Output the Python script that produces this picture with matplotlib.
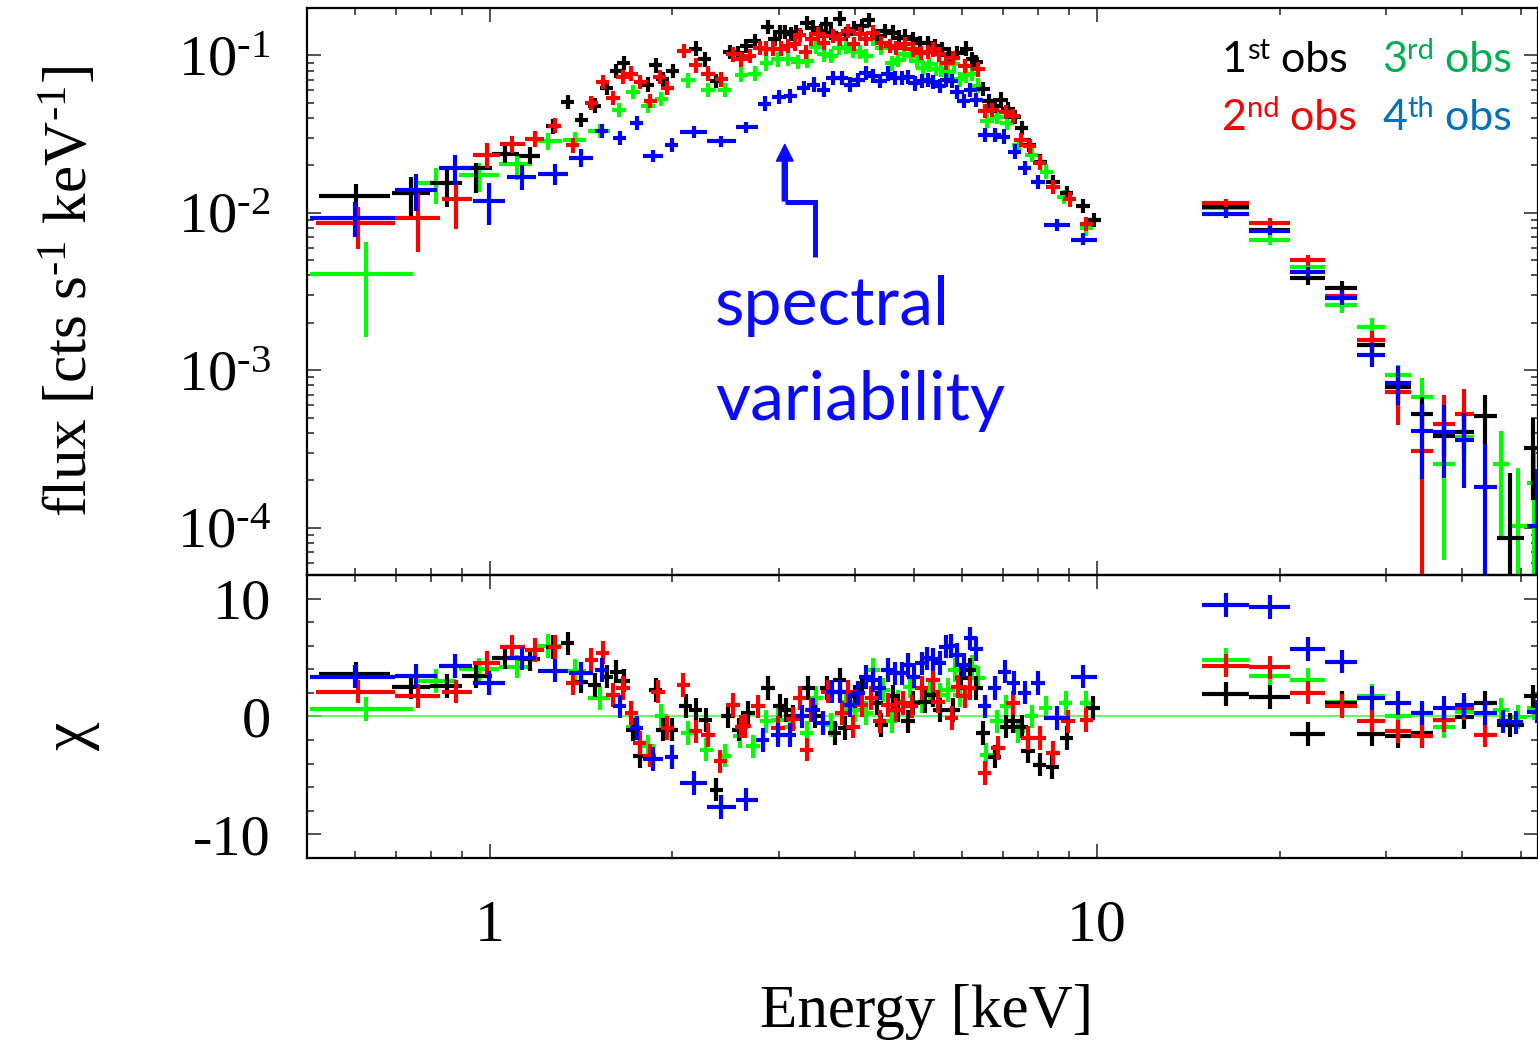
import numpy as np
import matplotlib
matplotlib.use("Agg")
import matplotlib.pyplot as plt
from matplotlib.ticker import LogLocator, MultipleLocator, NullFormatter, FuncFormatter

plt.rcParams["font.family"] = ["Liberation Serif", "DejaVu Serif"]
plt.rcParams["mathtext.fontset"] = "custom"
plt.rcParams["mathtext.rm"] = "Liberation Serif"
plt.rcParams["mathtext.it"] = "Liberation Serif:italic"
plt.rcParams["axes.unicode_minus"] = False

# ---- wide bins: (E, E_lo, E_hi, flux, flux_lo, flux_hi) ----
black_wide = [
    (0.603, 0.523, 0.684, 0.01278, 0.00967, 0.01524),
    (0.743, 0.689, 0.797, 0.01341, 0.00943, 0.01697),
    (0.849, 0.797, 0.899, 0.01553, 0.01092, 0.01986),
    (0.951, 0.899, 1.008, 0.01920, 0.01335, 0.02085),
    (1.061, 1.008, 1.118, 0.02369, 0.02076, 0.02638),
    (1.164, 1.118, 1.212, 0.02311, 0.02050, 0.02600),
    (16.3, 14.9, 17.8, 0.01082, 0.0101, 0.0116),
    (19.3, 17.8, 20.8, 0.00783, 0.0073, 0.0084),
    (22.3, 20.8, 23.8, 0.00387, 0.0035, 0.0043),
    (25.3, 23.8, 26.8, 0.00334, 0.0030, 0.0037),
    (28.4, 26.8, 29.8, 0.001446, 0.00125, 0.00167),
    (31.3, 29.8, 32.9, 0.000783, 0.00065, 0.00094),
    (34.3, 32.9, 35.8, 0.000529, 0.00040, 0.00068),
    (37.3, 35.8, 38.9, 0.000381, 0.00028, 0.00050),
    (40.3, 38.9, 41.8, 0.000406, 0.00030, 0.00053),
    (43.6, 41.8, 45.6, 0.000512, 0.000339, 0.000697),
    (47.9, 45.6, 50.5, 0.0000856, 0.000001, 0.000222),
    (52.3, 50.5, 54.6, 0.000321, 0.00015, 0.00050),
]
red_wide = [
    (0.607, 0.518, 0.697, 0.00856, 0.00593, 0.01092),
    (0.762, 0.697, 0.827, 0.00921, 0.00564, 0.01335),
    (0.881, 0.833, 0.936, 0.01217, 0.00787, 0.01547),
    (0.988, 0.937, 1.038, 0.02334, 0.01929, 0.02785),
    (1.090, 1.038, 1.142, 0.02733, 0.02404, 0.03087),
    (1.186, 1.142, 1.230, 0.02940, 0.02620, 0.03300),
    (16.3, 14.9, 17.8, 0.01158, 0.0109, 0.0123),
    (19.3, 17.8, 20.8, 0.00863, 0.0081, 0.0092),
    (22.3, 20.8, 23.8, 0.00499, 0.0046, 0.0054),
    (25.3, 23.8, 26.8, 0.00294, 0.0027, 0.0032),
    (28.4, 26.8, 29.8, 0.001556, 0.00135, 0.00178),
    (31.3, 29.8, 32.9, 0.000731, 0.000449, 0.00095),
    (34.3, 32.9, 35.8, 0.000306, 0.000001, 0.00060),
    (37.3, 35.8, 38.9, 0.000457, 0.00028, 0.000697),
    (40.3, 38.9, 41.8, 0.000529, 0.00035, 0.000757),
]
green_wide = [
    (0.625, 0.505, 0.748, 0.00410, 0.00163, 0.00653),
    (0.817, 0.752, 0.881, 0.01553, 0.01136, 0.01920),
    (0.960, 0.890, 1.035, 0.01740, 0.01361, 0.02066),
    (1.107, 1.035, 1.172, 0.02037, 0.01617, 0.02369),
    (1.247, 1.178, 1.313, 0.02838, 0.02500, 0.03220),
    (1.380, 1.320, 1.443, 0.02910, 0.02600, 0.03260),
    (1.518, 1.452, 1.577, 0.03320, 0.03000, 0.03680),
    (16.3, 14.9, 17.8, 0.0107, 0.0101, 0.0114),
    (19.3, 17.8, 20.8, 0.0067, 0.0062, 0.0072),
    (22.3, 20.8, 23.8, 0.00452, 0.0042, 0.0049),
    (25.3, 23.8, 26.8, 0.00258, 0.0023, 0.0029),
    (28.4, 26.8, 29.8, 0.00189, 0.00165, 0.00215),
    (31.3, 29.8, 32.9, 0.00093, 0.00078, 0.00108),
    (34.3, 32.9, 35.8, 0.000676, 0.00041, 0.00089),
    (37.3, 35.8, 38.9, 0.000252, 0.000062, 0.00060),
    (40.3, 38.9, 41.8, 0.000376, 0.00025, 0.00050),
    (46.4, 44.9, 47.7, 0.000252, 0.000088, 0.00041),
    (49.4, 47.7, 51.1, 0.000103, 0.000001, 0.000239),
    (52.4, 51.1, 54.0, 0.000192, 0.000001, 0.00032),
]
blue_wide = [
    (0.601, 0.505, 0.697, 0.00921, 0.00697, 0.01170),
    (0.755, 0.697, 0.819, 0.01396, 0.01030, 0.01766),
    (0.876, 0.824, 0.936, 0.01920, 0.01502, 0.02334),
    (0.997, 0.940, 1.060, 0.01193, 0.00835, 0.01553),
    (1.132, 1.069, 1.194, 0.01682, 0.01396, 0.02016),
    (1.280, 1.200, 1.344, 0.01758, 0.01500, 0.02050),
    (1.416, 1.350, 1.480, 0.02225, 0.01950, 0.02550),
    (1.858, 1.789, 1.929, 0.0230, 0.0210, 0.0252),
    (2.168, 2.061, 2.280, 0.0327, 0.0300, 0.0356),
    (2.408, 2.280, 2.540, 0.0284, 0.0262, 0.0308),
    (2.641, 2.547, 2.763, 0.0349, 0.0320, 0.0380),
    (8.602, 8.19, 9.03, 0.00835, 0.0077, 0.0091),
    (9.494, 9.06, 10.0, 0.00676, 0.0062, 0.0074),
    (16.3, 14.9, 17.8, 0.00981, 0.0092, 0.0105),
    (19.3, 17.8, 20.8, 0.00767, 0.0072, 0.0082),
    (22.3, 20.8, 23.8, 0.00420, 0.0039, 0.0045),
    (25.3, 23.8, 26.8, 0.00288, 0.0026, 0.0032),
    (28.4, 26.8, 29.8, 0.001254, 0.00105, 0.00148),
    (31.3, 29.8, 32.9, 0.000835, 0.000601, 0.001067),
    (34.3, 32.9, 35.8, 0.00041, 0.000205, 0.000613),
    (37.3, 35.8, 38.9, 0.000406, 0.000207, 0.00060),
    (40.3, 38.9, 41.8, 0.000358, 0.000178, 0.000535),
    (43.6, 41.8, 45.6, 0.00018, 0.000001, 0.00034),
    (53.0, 51.1, 55.0, 0.000102, 0.000001, 0.000235),
]

# ---- narrow bins: (E, flux) ----
black_pts = [
    (1.270, 0.0354), (1.344, 0.0504), (1.416, 0.0387), (1.489, 0.0480), (1.559, 0.0622),
    (1.617, 0.0794), (1.663, 0.0898), (1.821, 0.0653), (1.877, 0.0863), (1.928, 0.0703),
    (2.003, 0.0794), (2.185, 0.1104), (2.261, 0.0943), (2.363, 0.0686), (2.486, 0.1049),
    (2.562, 0.1040), (2.648, 0.1146), (2.733, 0.1234), (2.871, 0.1509), (2.948, 0.1265),
    (3.004, 0.1408), (3.062, 0.1408), (3.141, 0.1361), (3.201, 0.1408), (3.329, 0.1600),
    (3.405, 0.1502), (3.519, 0.1429), (3.586, 0.1577), (3.655, 0.1396), (3.772, 0.1714),
    (3.869, 0.1361), (3.978, 0.1481), (4.106, 0.1538), (4.211, 0.1680), (4.336, 0.1328),
    (4.475, 0.1429), (4.617, 0.1396), (4.724, 0.1297), (4.828, 0.1316), (4.983, 0.1265),
    (5.110, 0.1205), (5.273, 0.1205), (5.408, 0.1146), (5.568, 0.1092), (5.704, 0.1015),
    (5.886, 0.1040), (6.099, 0.1104), (6.240, 0.0943), (6.333, 0.0906), (6.494, 0.0613),
    (6.644, 0.0511), (6.792, 0.0480), (6.966, 0.0524), (7.143, 0.0457), (7.327, 0.0406),
    (7.516, 0.0346), (7.736, 0.0270), (8.076, 0.02115), (8.472, 0.01577), (8.915, 0.01341),
    (9.494, 0.01103), (9.899, 0.00898),
]
red_pts = [
    (1.280, 0.0358), (1.371, 0.0268), (1.471, 0.0499), (1.534, 0.0675), (1.597, 0.0537),
    (1.658, 0.0731), (1.712, 0.0767), (1.771, 0.0675), (1.839, 0.0511), (1.906, 0.0731),
    (1.962, 0.0622), (2.090, 0.1065), (2.185, 0.0863), (2.289, 0.0767), (2.408, 0.0703),
    (2.517, 0.1015), (2.598, 0.0943), (2.681, 0.0990), (2.785, 0.1120), (2.856, 0.1104),
    (2.929, 0.1104), (3.024, 0.1104), (3.101, 0.1146), (3.181, 0.1175), (3.242, 0.1341),
    (3.316, 0.1049), (3.388, 0.1265), (3.474, 0.1361), (3.549, 0.1205), (3.677, 0.1328),
    (3.772, 0.1265), (3.893, 0.1429), (3.978, 0.1175), (4.070, 0.1361), (4.174, 0.1265),
    (4.280, 0.1396), (4.419, 0.1205), (4.572, 0.1146), (4.677, 0.1120), (4.828, 0.1175),
    (4.983, 0.1092), (5.124, 0.1040), (5.273, 0.1049), (5.374, 0.1092), (5.497, 0.1015),
    (5.654, 0.0898), (5.798, 0.0967), (6.060, 0.0854), (6.373, 0.0814), (6.537, 0.0441),
    (6.730, 0.0448), (7.081, 0.0435), (7.280, 0.0414), (7.487, 0.0291), (7.755, 0.0264),
    (8.056, 0.02085), (8.472, 0.01465), (9.027, 0.01217), (9.616, 0.00847),
]
green_pts = [
    (1.633, 0.0448), (1.722, 0.0583), (1.823, 0.0475), (1.918, 0.0529), (2.122, 0.0693),
    (2.289, 0.0601), (2.439, 0.0601), (2.598, 0.0756), (2.733, 0.0767), (2.856, 0.0889),
    (2.985, 0.0943), (3.101, 0.0953), (3.221, 0.0906), (3.333, 0.0920), (3.444, 0.1130),
    (3.549, 0.1015), (3.655, 0.0990), (3.762, 0.1120), (3.859, 0.1136), (3.967, 0.1065),
    (4.070, 0.1049), (4.174, 0.0990), (4.280, 0.1265), (4.419, 0.1120), (4.590, 0.0889),
    (4.706, 0.0933), (4.810, 0.1015), (4.933, 0.0990), (5.058, 0.0920), (5.175, 0.0834),
    (5.293, 0.0876), (5.429, 0.0823), (5.548, 0.0814), (5.689, 0.0782), (5.813, 0.0876),
    (5.962, 0.0703), (6.099, 0.0746), (6.240, 0.0767), (6.373, 0.0643), (6.594, 0.0381),
    (6.851, 0.0406), (7.115, 0.0372), (7.448, 0.0270), (7.806, 0.02334), (8.262, 0.01827),
    (8.823, 0.01254), (9.616, 0.00795),
]
blue_pts = [
    (1.528, 0.0332), (1.637, 0.0298), (1.745, 0.0372), (1.993, 0.0270), (2.838, 0.0494),
    (2.996, 0.0545), (3.129, 0.0550), (3.291, 0.0622), (3.418, 0.0653), (3.549, 0.0607),
    (3.677, 0.0721), (3.797, 0.0721), (3.928, 0.0653), (4.044, 0.0696), (4.164, 0.0775),
    (4.280, 0.0738), (4.402, 0.0686), (4.531, 0.0767), (4.647, 0.0721), (4.768, 0.0721),
    (4.889, 0.0731), (5.015, 0.0663), (5.143, 0.0686), (5.273, 0.0696), (5.374, 0.0675),
    (5.512, 0.0637), (5.654, 0.0696), (5.763, 0.0686), (5.886, 0.0583), (6.037, 0.0511),
    (6.193, 0.0601), (6.333, 0.0519), (6.537, 0.0313), (6.792, 0.0313), (7.028, 0.0305),
    (7.327, 0.0245), (7.612, 0.0192), (8.004, 0.01577),
]

# ---- residuals, wide bins: (E, E_lo, E_hi, chi) ----
HIGH_BINS = [(16.3, 14.9, 17.8), (19.3, 17.8, 20.8), (22.3, 20.8, 23.8), (25.3, 23.8, 26.8),
             (28.4, 26.8, 29.8), (31.3, 29.8, 32.9), (34.3, 32.9, 35.8), (37.3, 35.8, 38.9),
             (40.3, 38.9, 41.8), (43.6, 41.8, 45.6)]
black_chi_wide = [
    (0.603, 0.523, 0.684, 3.58), (0.743, 0.689, 0.797, 2.48), (0.849, 0.797, 0.899, 2.60),
    (0.951, 0.899, 1.008, 3.44), (1.061, 1.008, 1.118, 5.00), (1.164, 1.118, 1.212, 4.85),
] + [b + (c,) for b, c in zip(HIGH_BINS, [1.92, 1.64, -1.49, 1.13, -1.46, -1.63, -1.40, -0.30, -0.05, 1.18])] + [
    (47.9, 45.6, 50.5, -0.70), (52.3, 50.5, 54.6, 1.70),
]
red_chi_wide = [
    (0.607, 0.518, 0.697, 2.11), (0.762, 0.697, 0.827, 1.75), (0.881, 0.833, 0.936, 2.11),
    (0.988, 0.937, 1.038, 4.56), (1.090, 1.038, 1.142, 5.87), (1.186, 1.142, 1.230, 5.64),
] + [b + (c,) for b, c in zip(HIGH_BINS, [4.31, 4.17, 2.03, 0.90, -0.34, -1.27, -1.69, -0.28, 0.71, -1.55])]
green_chi_wide = [
    (0.625, 0.505, 0.748, 0.62), (0.817, 0.752, 0.881, 3.02), (0.960, 0.890, 1.035, 4.00),
    (1.107, 1.035, 1.172, 4.23), (1.247, 1.178, 1.313, 5.98), (1.380, 1.320, 1.443, 3.89),
    (1.518, 1.452, 1.577, 1.55),
] + [b + (c,) for b, c in zip(HIGH_BINS[:9], [4.79, 3.44, 3.10, 1.20, 1.75, 0.06, 0.28, -0.85, 0.42])] + [
    (46.4, 44.9, 47.7, 0.57), (49.4, 47.7, 51.1, -0.05), (52.4, 51.1, 54.0, 0.70),
]
blue_chi_wide = [
    (0.601, 0.505, 0.697, 3.38), (0.755, 0.697, 0.819, 3.44), (0.876, 0.824, 0.936, 4.29),
    (0.997, 0.940, 1.060, 2.82), (1.132, 1.069, 1.194, 4.93), (1.280, 1.200, 1.344, 3.89),
    (1.416, 1.350, 1.480, 3.66), (1.858, 1.789, 1.929, -3.60), (2.168, 2.061, 2.280, -5.63),
    (2.408, 2.280, 2.540, -7.66), (2.641, 2.547, 2.763, -7.04), (8.602, 8.19, 9.03, -0.14),
    (9.494, 9.06, 10.0, 3.38),
] + [b + (c,) for b, c in zip(HIGH_BINS, [9.44, 9.30, 5.70, 4.65, 1.55, 1.13, 0.28, 0.71, 0.99, 0.28])] + [
    (46.7, 45.6, 47.9, -0.42), (49.0, 47.9, 50.3, -0.50), (53.0, 51.1, 55.0, 0.42),
]

# ---- residuals, narrow bins: (E, chi) ----
black_chi = [
    (1.270, 5.87), (1.344, 6.20), (1.416, 2.96), (1.489, 2.68), (1.559, 3.38), (1.617, 3.80),
    (1.663, 3.04), (1.722, -1.12), (1.767, -3.38), (1.877, 2.26), (1.928, -1.12), (1.993, -1.12),
    (2.103, 0.90), (2.185, 0.57), (2.269, -0.28), (2.363, -6.20), (2.470, 0.06), (2.575, -1.12),
    (2.664, 0.28), (2.874, 2.40), (3.004, 0.90), (3.074, 0.57), (3.160, 0.00), (3.345, 2.40),
    (3.431, 0.00), (3.595, 2.40), (3.701, -1.40), (3.772, 3.10), (3.845, -1.00), (3.993, 1.70),
    (4.097, 2.54), (4.336, 1.13), (4.419, -0.70), (4.617, 1.70), (4.706, 0.57), (4.889, -0.42),
    (4.983, 1.13), (5.207, 1.27), (5.374, 1.83), (5.512, 0.57), (5.798, 0.57), (5.985, 3.25),
    (6.177, 3.95), (6.333, 2.40), (6.494, -1.40), (6.792, -3.40), (7.099, -0.85), (7.280, -0.42),
    (7.516, -0.85), (7.706, -2.96), (8.056, -4.08), (8.452, -4.28), (8.915, -1.83), (9.860, 0.70),
]
red_chi = [
    (1.280, 5.87), (1.371, 2.82), (1.471, 4.79), (1.534, 5.41), (1.597, 1.83), (1.658, 2.40),
    (1.712, 0.28), (1.767, -2.25), (1.835, -3.32), (1.894, 2.11), (1.962, -0.98), (2.083, 2.68),
    (2.185, -1.27), (2.289, -1.55), (2.399, -3.80), (2.517, 0.99), (2.598, -0.85), (2.631, -0.80),
    (2.767, 0.85), (2.985, -1.00), (3.160, -0.20), (3.242, 1.55), (3.325, -2.80), (3.388, 0.57),
    (3.608, 2.11), (3.797, 0.28), (3.893, 2.11), (3.967, -0.85), (4.097, 0.99), (4.254, 1.55),
    (4.390, -0.42), (4.531, 0.99), (4.677, 0.57), (4.797, 1.13), (4.952, 0.85), (5.143, 2.40),
    (5.374, 3.10), (5.477, 1.27), (5.763, -0.14), (5.908, 2.54), (6.060, 1.70), (6.177, 2.40),
    (6.537, -4.80), (6.877, -2.67), (7.280, 1.13), (7.706, -1.83), (8.056, -1.83), (8.472, -3.10),
    (8.969, -0.42), (9.616, -0.28),
]
green_chi = [
    (1.722, -0.85), (1.823, -2.54), (1.918, 0.06), (2.122, -1.40), (2.275, -2.80), (2.439, -3.32),
    (2.582, -1.69), (2.715, -2.54), (2.856, -0.42), (2.985, -0.28), (3.121, -0.85), (3.325, -1.40),
    (3.453, 1.55), (3.655, -0.70), (3.869, 1.27), (3.993, 0.57), (4.174, 0.28), (4.280, 3.95),
    (4.446, 2.26), (4.590, -0.42), (4.706, 1.27), (4.920, 2.54), (5.143, 1.27), (5.307, 2.11),
    (5.512, 1.83), (5.689, 2.26), (5.835, 3.95), (5.946, 1.83), (6.217, 4.23), (6.373, 3.25),
    (6.579, -3.24), (6.851, -0.42), (7.099, 0.85), (7.420, -1.27), (7.806, 0.00), (8.241, 0.71),
    (8.891, 1.13), (9.616, 1.13),
]
blue_chi = [
    (1.528, 3.95), (1.637, 0.85), (1.745, -0.98), (1.993, -3.43), (2.814, -1.97), (2.985, -1.55),
    (3.121, -1.55), (3.263, 0.00), (3.409, 0.57), (3.540, -0.56), (3.669, 2.11), (3.772, 2.11),
    (3.918, 0.99), (4.044, 1.97), (4.164, 3.38), (4.280, 3.10), (4.390, 2.40), (4.531, 3.95),
    (4.647, 3.66), (4.768, 3.66), (4.889, 4.37), (4.996, 3.38), (5.143, 4.51), (5.261, 4.93),
    (5.374, 4.85), (5.512, 4.56), (5.639, 5.92), (5.741, 5.98), (5.886, 5.21), (6.037, 4.37),
    (6.193, 6.63), (6.333, 5.70), (6.537, 0.85), (6.792, 2.40), (7.053, 3.80), (7.300, 2.82),
    (7.612, 2.03), (8.004, 2.82),
]

# typical half-widths of the narrow bins
E_FRAC = 0.025
F_FRAC = 0.11
CHI_ERR = 1.0

SERIES = [
    # colour, wide, narrow, chi wide, chi narrow, z
    ("#00ff00", green_wide, green_pts, green_chi_wide, green_chi, 3),
    ("#000000", black_wide, black_pts, black_chi_wide, black_chi, 4),
    ("#ff0000", red_wide, red_pts, red_chi_wide, red_chi, 5),
    ("#0000ff", blue_wide, blue_pts, blue_chi_wide, blue_chi, 6),
]

fig = plt.figure(figsize=(15.38, 10.45), dpi=100)
ax1 = fig.add_axes([0.1996, 0.44976, 0.8004, 0.54258])
ax2 = fig.add_axes([0.1996, 0.17895, 0.8004, 0.27081], sharex=ax1)

LW = 3.0
for col, wide, pts, cwide, cpts, z in SERIES:
    w = np.array(wide).T
    ax1.errorbar(w[0], w[3], xerr=[w[0] - w[1], w[2] - w[0]], yerr=[w[3] - w[4], w[5] - w[3]],
                 fmt="none", ecolor=col, elinewidth=LW, capsize=0, zorder=z)
    p = np.array(pts).T
    ax1.errorbar(p[0], p[1], xerr=[p[0] * E_FRAC, p[0] * E_FRAC],
                 yerr=[p[1] - p[1] / (1 + F_FRAC), p[1] * F_FRAC],
                 fmt="none", ecolor=col, elinewidth=LW, capsize=0, zorder=z)
    cw = np.array(cwide).T
    ax2.errorbar(cw[0], cw[3], xerr=[cw[0] - cw[1], cw[2] - cw[0]], yerr=CHI_ERR,
                 fmt="none", ecolor=col, elinewidth=LW, capsize=0, zorder=z)
    cp = np.array(cpts).T
    ax2.errorbar(cp[0], cp[1], xerr=[cp[0] * E_FRAC, cp[0] * E_FRAC], yerr=CHI_ERR,
                 fmt="none", ecolor=col, elinewidth=LW, capsize=0, zorder=z)

ax2.axhline(0, color="#33ff33", lw=1.1, zorder=2)

# axes, ticks
ax1.set_xscale("log")
ax1.set_yscale("log")
ax1.set_xlim(0.5, 53.3)
ax1.set_ylim(5e-5, 0.2)
ax2.set_ylim(-12, 12)

for ax in (ax1, ax2):
    ax.xaxis.set_major_locator(LogLocator(base=10, numticks=10))
    ax.xaxis.set_minor_locator(LogLocator(base=10, subs=np.arange(2, 10), numticks=20))
    ax.tick_params(which="both", direction="in", top=True, right=True, width=1.1, color="#222222")
    ax.tick_params(which="major", length=10, pad=26)
    ax.tick_params(which="minor", length=5)
    for s in ax.spines.values():
        s.set_linewidth(1.6)
    ax.set_facecolor("none")


def decade_label(v, pos):
    return r"$10^{\text{-}%d}$" % round(-np.log10(v))


ax1.yaxis.set_major_locator(LogLocator(base=10, numticks=10))
ax1.yaxis.set_minor_locator(LogLocator(base=10, subs=np.arange(2, 10), numticks=20))
ax1.yaxis.set_major_formatter(FuncFormatter(decade_label))
ax1.yaxis.set_minor_formatter(NullFormatter())
ax1.tick_params(axis="y", labelsize=42)
ax1.tick_params(axis="x", labelbottom=False)

ax2.yaxis.set_major_locator(MultipleLocator(10))
ax2.yaxis.set_minor_locator(MultipleLocator(2))
ax2.set_yticks([-10, 0, 10])
ax2.set_yticklabels(["-10", "0", "10"])
ax2.tick_params(axis="y", labelsize=42)
ax2.set_xticks([1, 10])
ax2.set_xticklabels(["1", "10"])
ax2.xaxis.set_minor_formatter(NullFormatter())
ax2.tick_params(axis="x", labelsize=43, pad=30)
ax2.set_xlim(0.5, 53.3)

ax1.set_ylabel(r"flux [cts s$^{\text{-}1}$ keV$^{\text{-}1}$]", fontsize=44)
ax1.yaxis.set_label_coords(-0.168, 0.5)
ax2.set_ylabel("χ", fontsize=46)
ax2.yaxis.set_label_coords(-0.168, 0.43)
ax2.set_xlabel("Energy [keV]", fontsize=44)
ax2.xaxis.set_label_coords(0.503, -0.445)

# arrow pointing at the 4th observation
BLUE = "#0a0aff"
ax1.plot([3.431, 3.431, 3.062], [0.00524, 0.01175, 0.01175], color=BLUE, lw=3.6,
         solid_joinstyle="miter", solid_capstyle="butt", zorder=7)
ax1.annotate("", xy=(3.062, 0.0272), xytext=(3.062, 0.0119),
             arrowprops=dict(color=BLUE, width=3.6, headwidth=12, headlength=12, shrink=0),
             zorder=7)
fig.text(0.4650, 0.689, "spectral", color=BLUE, fontsize=49, family="Lato", va="baseline")
fig.text(0.4650, 0.598, "variability", color=BLUE, fontsize=49, family="Lato", va="baseline")


def obs_label(x, y, num, sup, color):
    t1 = fig.text(x, y, num, color=color, fontsize=31, family="Lato", va="baseline")
    t2 = ax1.annotate(sup, xy=(1.0, 1.08), xycoords=t1, ha="left", va="top",
                      fontsize=21, color=color, family="Lato")
    ax1.annotate(" obs", xy=(1.0, 0.0), xycoords=(t2, t1), ha="left", va="bottom",
                 fontsize=31, color=color, family="Lato")


obs_label(0.7945, 0.9311, "1", "st", "#000000")
obs_label(0.7945, 0.8756, "2", "nd", "#ff0000")
obs_label(0.8986, 0.9311, "3", "rd", "#00b050")
obs_label(0.8986, 0.8756, "4", "th", "#0070c0")

fig.savefig("out.png", dpi=100, facecolor="white")
